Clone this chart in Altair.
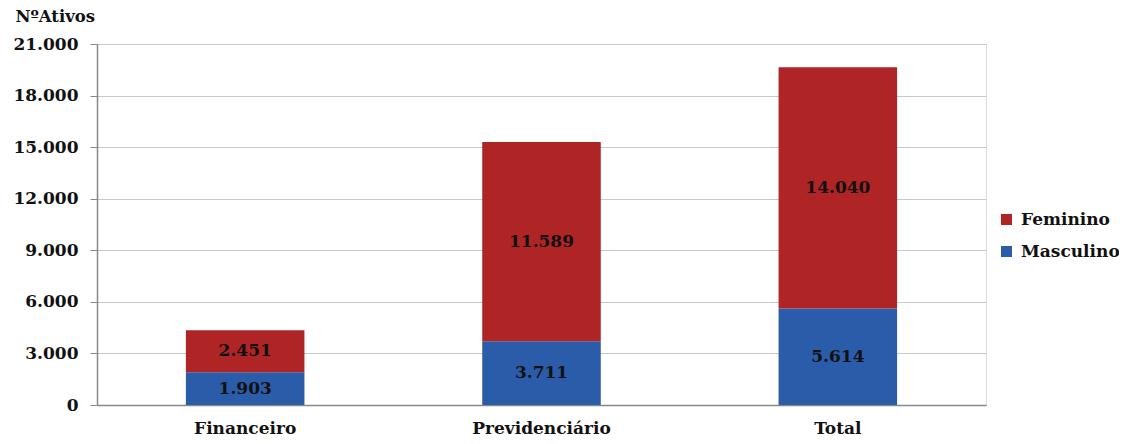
import altair as alt
import pandas as pd

categorias = ["Financeiro", "Previdenciário", "Total"]
masculino = [1903, 3711, 5614]
feminino = [2451, 11589, 14040]
y_ticks = [0, 3000, 6000, 9000, 12000, 15000, 18000, 21000]

rows = []
for i, c in enumerate(categorias):
    rows.append({"cat": c, "sexo": "Masculino", "valor": masculino[i], "ordem": 0})
    rows.append({"cat": c, "sexo": "Feminino", "valor": feminino[i], "ordem": 1})
df = pd.DataFrame(rows)

FONT = "DejaVu Serif"
FS = 17

base = alt.Chart(df).transform_stack(
    stack="valor", groupby=["cat"], as_=["v0", "v1"], sort=[alt.SortField("ordem", order="ascending")]
).transform_calculate(
    mid="(datum.v0 + datum.v1) / 2",
    rotulo="replace(format(datum.valor, ','), ',', '.')",
)

x = alt.X("cat:N", sort=categorias, title=None,
          scale=alt.Scale(paddingInner=0.6, paddingOuter=0.3),
          axis=alt.Axis(labelAngle=0, labelFont=FONT, labelFontSize=FS, labelFontWeight="bold",
                        labelColor="#111", labelPadding=15, domainColor="#888",
                        ticks=False, domainWidth=1.5))

bars = base.mark_bar().encode(
    x=x,
    y=alt.Y("v0:Q", scale=alt.Scale(domain=[0, 21000], nice=False, zero=True),
            axis=alt.Axis(values=y_ticks, labelExpr="replace(format(datum.value, ','), ',', '.')",
                          labelFont=FONT, labelFontSize=FS, labelFontWeight="bold", labelColor="#111",
                          gridColor="#c8c8c8", domainColor="#888", tickColor="#888", tickSize=7,
                          labelPadding=12, domainWidth=1.5,
                          title="NºAtivos", titleAngle=0, titleAlign="left", titleBaseline="alphabetic",
                          titleX=-82, titleY=-23, titleFont=FONT, titleFontSize=16.5,
                          titleFontWeight="bold", titleColor="#111")),
    y2="v1:Q",
    color=alt.Color("sexo:N", scale=alt.Scale(domain=["Feminino", "Masculino"], range=["#AF2526", "#2B5CAA"]),
                    legend=alt.Legend(title=None, symbolType="square", symbolSize=121,
                                      labelFont=FONT, labelFontSize=FS, labelFontWeight="bold",
                                      labelColor="#111", rowPadding=14, symbolStrokeWidth=0,
                                      labelOffset=6, orient="none", legendX=901, legendY=167)),
)

labels = base.mark_text(font=FONT, fontSize=FS, fontWeight="bold", color="#111").encode(
    x=alt.X("cat:N", sort=categorias),
    y=alt.Y("mid:Q"),
    text="rotulo:N",
)

chart = (bars + labels).properties(
    width=889, height=361,
    autosize=alt.AutoSizeParams(type="none"),
    padding={"left": 89, "top": 36, "right": 133, "bottom": 34},
).configure_view(
    stroke="#c8c8c8", strokeWidth=1.5
).configure(background="white")

chart.save("out.html", embed_options={"renderer": "svg", "actions": False})
